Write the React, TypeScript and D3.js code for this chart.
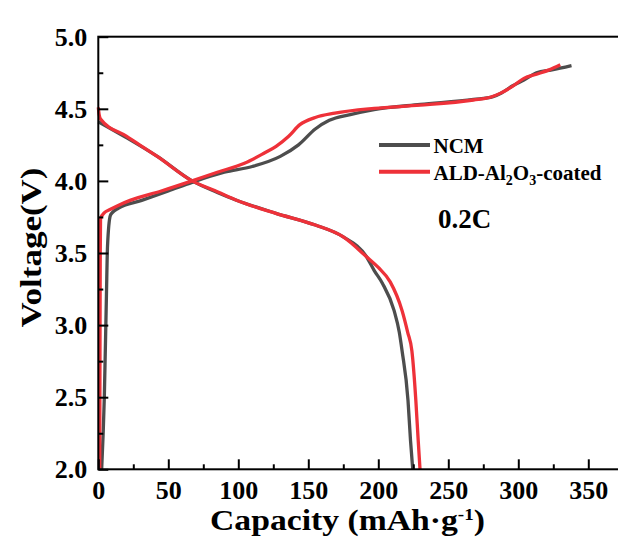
import React, { useEffect, useRef } from 'react';
import * as d3 from 'd3';

// capacity (mAh/g) and voltage (V)
const ncmChargeCap = [2.4, 4.3, 5.8, 6.6, 8.6, 10, 14.2, 31, 50, 67, 90, 110, 130, 143, 155, 165, 180, 197, 230, 268, 282, 288, 296, 304, 313, 324, 338];
const ncmChargeV = [2.0, 2.5, 3.2, 3.55, 3.76, 3.78, 3.81, 3.865, 3.93, 3.99, 4.06, 4.1, 4.17, 4.25, 4.36, 4.42, 4.46, 4.495, 4.53, 4.565, 4.585, 4.61, 4.66, 4.7, 4.75, 4.77, 4.8];

const aldChargeCap = [1, 1.2, 1.4, 1.6, 4.4, 8, 14.2, 22.7, 45, 67, 85, 104.4, 118, 127, 136, 144, 155, 169, 197, 230, 268, 280, 287, 295, 304, 313, 322, 330];
const aldChargeV = [2.0, 2.8, 3.5, 3.74, 3.78, 3.8, 3.83, 3.865, 3.93, 4.0, 4.06, 4.122, 4.19, 4.24, 4.31, 4.39, 4.44, 4.47, 4.503, 4.525, 4.561, 4.58, 4.607, 4.65, 4.711, 4.74, 4.77, 4.805];

const ncmDischargeCap = [0, 20, 42.4, 67, 85, 98.7, 126.9, 155, 174.7, 191.6, 197, 202.9, 211.3, 215, 217, 221.2, 223, 224.6];
const ncmDischargeV = [4.41, 4.3, 4.168, 4.0, 3.92, 3.866, 3.775, 3.694, 3.613, 3.474, 3.38, 3.29, 3.1, 2.95, 2.82, 2.48, 2.2, 2.0];

const aldDischargeCap = [0, 0.6, 1.6, 20, 42.4, 67, 85, 98.7, 126.9, 155, 174.7, 191.6, 200, 208.5, 217, 221, 224, 226.8, 228.5, 229.8];
const aldDischargeV = [4.51, 4.46, 4.43, 4.31, 4.168, 4.0, 3.925, 3.866, 3.775, 3.694, 3.613, 3.474, 3.4, 3.3, 3.1, 2.95, 2.82, 2.48, 2.2, 2.0];

const capTicks = [0, 50, 100, 150, 200, 250, 300, 350];
const capMinor = [25, 75, 125, 175, 225, 275, 325, 375];
const voltTicks = [2.0, 2.5, 3.0, 3.5, 4.0, 4.5, 5.0];
const voltMinor = [2.25, 2.75, 3.25, 3.75, 4.25, 4.75];

const seriesNames = ['NCM', 'ALD-Al2O3-coated'];
const seriesColors = ['#4d4d4d', '#ee3139'];

const FONT = "'Liberation Serif', 'Times New Roman', serif";

const App = () => {
  const chartRef = useRef<SVGSVGElement>(null);

  useEffect(() => {
    const svg = d3.select(chartRef.current);
    svg.selectAll('*').remove();

    const x = d3.scaleLinear().domain([0, 400]).range([98.3, 658.3]);
    const y = d3.scaleLinear().domain([2, 5]).range([469.3, 36.7]);

    const line = d3.line<[number, number]>()
      .x(d => x(d[0]))
      .y(d => y(d[1]))
      .curve(d3.curveMonotoneX);

    const zip = (a: number[], b: number[]) => a.map((v, i) => [v, b[i]] as [number, number]);

    const curves = [
      { pts: zip(ncmChargeCap, ncmChargeV), c: seriesColors[0] },
      { pts: zip(ncmDischargeCap, ncmDischargeV), c: seriesColors[0] },
      { pts: zip(aldChargeCap, aldChargeV), c: seriesColors[1] },
      { pts: zip(aldDischargeCap, aldDischargeV), c: seriesColors[1] },
    ];

    svg.append('g').selectAll('path').data(curves).enter().append('path')
      .attr('d', d => line(d.pts))
      .attr('fill', 'none')
      .attr('stroke', d => d.c)
      .attr('stroke-width', 3.3)
      .attr('stroke-linejoin', 'round');

    // frame
    svg.append('rect')
      .attr('x', x(0)).attr('y', y(5))
      .attr('width', x(400) - x(0)).attr('height', y(2) - y(5))
      .attr('fill', 'none').attr('stroke', '#000').attr('stroke-width', 2);

    const styleAxis = (g: any) => {
      g.select('.domain').remove();
      g.selectAll('line').attr('stroke', '#000').attr('stroke-width', 2);
      g.selectAll('text')
        .attr('font-family', FONT)
        .attr('font-size', 26)
        .attr('font-weight', 'bold')
        .attr('fill', '#000');
    };

    svg.append('g').attr('transform', `translate(0,${y(2)})`)
      .call(d3.axisBottom(x).tickValues(capTicks).tickSize(-10).tickPadding(11).tickFormat(d3.format('d')))
      .call(styleAxis);
    svg.append('g').attr('transform', `translate(0,${y(2)})`)
      .call(d3.axisBottom(x).tickValues(capMinor).tickSize(-5).tickFormat(() => ''))
      .call(styleAxis);

    svg.append('g').attr('transform', `translate(${x(0)},0)`)
      .call(d3.axisLeft(y).tickValues(voltTicks).tickSize(-10).tickPadding(11).tickFormat(d3.format('.1f')))
      .call(styleAxis);
    svg.append('g').attr('transform', `translate(${x(0)},0)`)
      .call(d3.axisLeft(y).tickValues(voltMinor).tickSize(-5).tickFormat(() => ''))
      .call(styleAxis);

    // axis titles
    const xt = svg.append('text')
      .attr('x', 347.5).attr('y', 530)
      .attr('text-anchor', 'middle')
      .attr('textLength', 275).attr('lengthAdjust', 'spacingAndGlyphs')
      .attr('font-family', FONT).attr('font-size', 30).attr('font-weight', 'bold');
    xt.append('tspan').text('Capacity (mAh·g');
    xt.append('tspan').attr('font-size', 17).attr('dy', -10).text('-1');
    xt.append('tspan').attr('dy', 10).text(')');

    svg.append('text')
      .attr('transform', 'translate(41,247.5) rotate(-90)')
      .attr('text-anchor', 'middle')
      .attr('textLength', 160).attr('lengthAdjust', 'spacingAndGlyphs')
      .attr('font-family', FONT).attr('font-size', 30).attr('font-weight', 'bold')
      .text('Voltage(V)');

    // legend
    const legend = svg.append('g');
    seriesNames.forEach((name, i) => {
      const ly = 145 + i * 26.7;
      legend.append('line')
        .attr('x1', 379).attr('x2', 430).attr('y1', ly).attr('y2', ly)
        .attr('stroke', seriesColors[i]).attr('stroke-width', 4);
      const t = legend.append('text')
        .attr('x', 433.5).attr('y', ly + 8)
        .attr('font-family', FONT).attr('font-size', 21).attr('font-weight', 'bold');
      if (i === 0) {
        t.text(name);
      } else {
        t.append('tspan').text('ALD-Al');
        t.append('tspan').attr('font-size', 14).attr('dy', 5).text('2');
        t.append('tspan').attr('dy', -5).text('O');
        t.append('tspan').attr('font-size', 14).attr('dy', 5).text('3');
        t.append('tspan').attr('dy', -5).text('-coated');
      }
    });

    svg.append('text')
      .attr('x', 438).attr('y', 228)
      .attr('font-family', FONT).attr('font-size', 27).attr('font-weight', 'bold')
      .text('0.2C');
  }, []);

  return (
    <div>
      <svg ref={chartRef} width={618} height={540}
        style={{ position: 'absolute', left: 0, top: 0, background: '#fff' }}></svg>
    </div>
  );
};

export default App;
